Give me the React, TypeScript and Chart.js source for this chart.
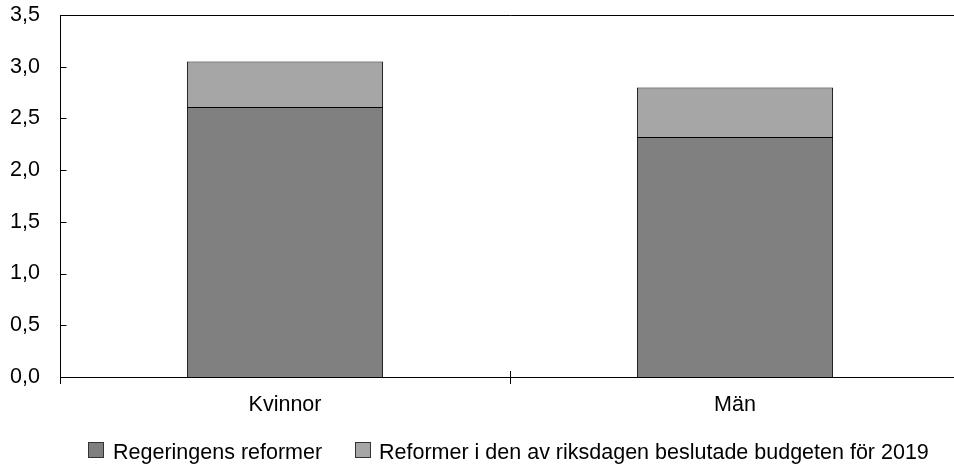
import React, { useEffect, useRef } from "react";
import { Chart, registerables } from "chart.js";

Chart.register(...registerables);

const categories = ["Kvinnor", "Män"];
const regeringensReformer = [2.61, 2.32];
const riksdagensBudget = [0.44, 0.48];
const seriesNames = [
  "Regeringens reformer",
  "Reformer i den av riksdagen beslutade budgeten för 2019",
];
const yMin = 0;
const yMax = 3.5;
const yStep = 0.5;

const VIEW_W = 954;
const H = 467;
const CANVAS_W = 960;
const FONT = "'Liberation Sans', Arial, sans-serif";
const FONT_SIZE = 21.5;
const DARK = "#808080";
const LIGHT = "#a6a6a6";

const axesPlugin = {
  id: "excelAxes",
  afterDraw(chart: any) {
    const { ctx, chartArea } = chart;
    const { left, right, top, bottom } = chartArea;
    const yScale = chart.scales.y;
    const n = categories.length;
    ctx.save();
    ctx.strokeStyle = "#000";
    ctx.lineWidth = 1;
    ctx.beginPath();
    const L = Math.round(left) + 0.5;
    // top border
    ctx.moveTo(L, Math.round(top) + 0.5);
    ctx.lineTo(right, Math.round(top) + 0.5);
    // y axis
    ctx.moveTo(L, top);
    ctx.lineTo(L, bottom);
    // x axis
    ctx.moveTo(L, Math.round(bottom) + 0.5);
    ctx.lineTo(right, Math.round(bottom) + 0.5);
    // y ticks (inside)
    for (let v = yMin; v <= yMax + 1e-9; v += yStep) {
      const y = Math.round(yScale.getPixelForValue(v)) + 0.5;
      ctx.moveTo(L, y);
      ctx.lineTo(L + 6, y);
    }
    // x ticks at category boundaries (crossing)
    for (let i = 0; i <= n; i++) {
      const x = Math.round(left + (i * (right - left)) / n) + 0.5;
      ctx.moveTo(x, bottom - 6);
      ctx.lineTo(x, bottom + 7);
    }
    ctx.stroke();

    // legend
    const items = [
      { x: 88, color: DARK, text: seriesNames[0], tx: 113 },
      { x: 355, color: LIGHT, text: seriesNames[1], tx: 379 },
    ];
    ctx.font = `${FONT_SIZE}px ${FONT}`;
    ctx.textBaseline = "alphabetic";
    ctx.textAlign = "left";
    for (const it of items) {
      ctx.fillStyle = it.color;
      ctx.fillRect(it.x, 442, 16, 16);
      ctx.strokeStyle = "#333";
      ctx.strokeRect(it.x + 0.5, 442.5, 15, 15);
      ctx.fillStyle = "#000";
      ctx.fillText(it.text, it.tx, 458.5);
    }
    ctx.restore();
  },
};

export default function App() {
  const canvasRef = useRef<HTMLCanvasElement | null>(null);

  useEffect(() => {
    const canvas = canvasRef.current;
    if (!canvas) return;
    const chart = new Chart(canvas, {
      type: "bar",
      data: {
        labels: categories,
        datasets: [
          {
            label: seriesNames[0],
            data: regeringensReformer,
            backgroundColor: DARK,
            borderColor: "#000",
            borderWidth: 1,
            borderSkipped: "start",
            categoryPercentage: 1,
            barPercentage: 0.436,
          },
          {
            label: seriesNames[1],
            data: riksdagensBudget,
            backgroundColor: LIGHT,
            borderColor: "#000",
            borderWidth: 1,
            borderSkipped: "start",
            categoryPercentage: 1,
            barPercentage: 0.436,
          },
        ],
      },
      options: {
        responsive: false,
        maintainAspectRatio: false,
        devicePixelRatio: 1,
        animation: false,
        layout: { padding: { top: 15, right: 0, left: 0, bottom: 0 } },
        plugins: {
          legend: { display: false },
          tooltip: { enabled: false },
        },
        scales: {
          x: {
            stacked: true,
            grid: { display: false, drawTicks: false },
            border: { display: false },
            ticks: {
              color: "#000",
              font: { family: FONT, size: FONT_SIZE },
              padding: 15,
              maxRotation: 0,
            },
            afterFit(scale: any) {
              scale.height = 90;
              scale.paddingLeft = 0;
              scale.paddingRight = 0;
              scale.paddingTop = 0;
              scale.paddingBottom = 0;
            },
          },
          y: {
            stacked: true,
            min: yMin,
            max: yMax,
            grid: { display: false, drawTicks: false },
            border: { display: false },
            ticks: {
              stepSize: yStep,
              color: "#000",
              font: { family: FONT, size: FONT_SIZE },
              padding: 20,
              callback: (v: any) => Number(v).toFixed(1).replace(".", ","),
            },
            afterFit(scale: any) {
              scale.width = 60;
              scale.paddingLeft = 0;
              scale.paddingRight = 0;
              scale.paddingTop = 0;
              scale.paddingBottom = 0;
            },
          },
        },
      },
      plugins: [axesPlugin],
    });
    return () => chart.destroy();
  }, []);

  return (
    <div
      style={{
        position: "fixed",
        left: 0,
        top: 0,
        width: VIEW_W,
        height: H,
        background: "#fff",
        overflow: "hidden",
      }}
    >
      <canvas
        ref={canvasRef}
        width={CANVAS_W}
        height={H}
        style={{ width: `${CANVAS_W}px`, height: `${H}px`, display: "block" }}
      />
    </div>
  );
}
